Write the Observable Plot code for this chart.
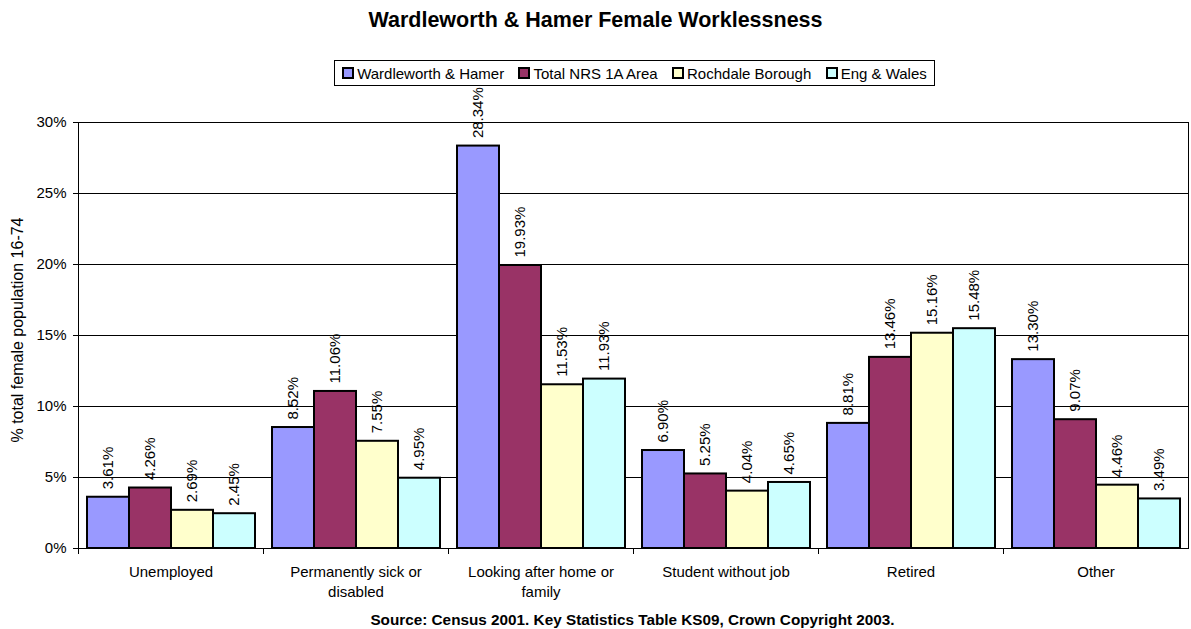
<!DOCTYPE html>
<html><head><meta charset="utf-8">
<script src="https://cdn.jsdelivr.net/npm/d3@7"></script>
<script src="https://cdn.jsdelivr.net/npm/@observablehq/plot@0.6"></script>
<style>
body{margin:0;background:#fff;font-family:"Liberation Sans",Arial,sans-serif;color:#000;}
#wrap{position:relative;width:1191px;height:629px;overflow:hidden;}
#title{position:absolute;left:0;width:1191px;top:8px;text-align:center;font-weight:bold;font-size:21.5px;}
#legend{position:absolute;top:60px;left:334px;width:599px;height:24px;border:1px solid #000;display:flex;align-items:center;justify-content:space-around;font-size:15px;white-space:nowrap;box-sizing:content-box;background:#fff;}
.item{display:flex;align-items:center;}
.sw{width:8px;height:8px;border:2px solid #000;margin-right:3px;}
#ylabel{position:absolute;left:18px;top:330px;transform:translate(-50%,-50%) rotate(-90deg);font-size:16px;white-space:nowrap;}
#chart{position:absolute;top:90px;left:0;}
#caption{position:absolute;top:611px;left:37px;width:1191px;text-align:center;font-weight:bold;font-size:15.3px;}
</style>
</head><body>
<div id="wrap">
  <div id="title">Wardleworth &amp; Hamer Female Worklessness</div>
  <div id="legend"></div>
  <div id="ylabel">% total female population 16-74</div>
  <div id="chart"></div>
  <div id="caption">Source: Census 2001. Key Statistics Table KS09, Crown Copyright 2003.</div>
</div>
<script>
const categories = ["Unemployed", "Permanently sick or disabled", "Looking after home or family", "Student without job", "Retired", "Other"];
const categoryLabels = ["Unemployed", "Permanently sick or\ndisabled", "Looking after home or\nfamily", "Student without job", "Retired", "Other"];
const series = ["Wardleworth & Hamer", "Total NRS 1A Area", "Rochdale Borough", "Eng & Wales"];
const colors = ["#9999FF", "#993366", "#FFFFCC", "#CCFFFF"];
const wardleworth = [3.61, 8.52, 28.34, 6.90, 8.81, 13.30];
const totalNRS = [4.26, 11.06, 19.93, 5.25, 13.46, 9.07];
const rochdale = [2.69, 7.55, 11.53, 4.04, 15.16, 4.46];
const engWales = [2.45, 4.95, 11.93, 4.65, 15.48, 3.49];
const yTicks = [0, 5, 10, 15, 20, 25, 30];

const seriesValues = [wardleworth, totalNRS, rochdale, engWales];
const rows = categories.flatMap((c, i) => series.map((s, k) => ({category: c, series: s, value: seriesValues[k][i]})));
const labelRows = categories.map((c, i) => ({category: c, label: categoryLabels[i]}));

// legend
const legend = document.getElementById("legend");
series.forEach((s, k) => {
  const it = document.createElement("div");
  it.className = "item";
  const sw = document.createElement("div");
  sw.className = "sw";
  sw.style.background = colors[k];
  const t = document.createElement("span");
  t.textContent = s;
  it.appendChild(sw); it.appendChild(t);
  legend.appendChild(it);
});

const chart = Plot.plot({
  width: 1191,
  height: 520,
  marginTop: 32,
  marginLeft: 78,
  marginRight: 3,
  marginBottom: 62,
  style: {fontFamily: "'Liberation Sans', Arial, sans-serif", fontSize: "15px", color: "#000", background: "transparent", overflow: "visible"},
  fx: {domain: categories, padding: 0, axis: null},
  x: {domain: series, paddingInner: 0, paddingOuter: 0.2, axis: null},
  y: {domain: [0, 30], ticks: yTicks, tickFormat: d => d + "%", tickSize: 5, tickPadding: 7, label: null},
  color: {domain: series, range: colors},
  marks: [
    Plot.ruleY(yTicks, {stroke: "#000", strokeWidth: 1}),
    Plot.frame({anchor: "left", insetTop: 426, insetBottom: -5, stroke: "#000"}),
    Plot.frame({anchor: "left", fx: () => categories[0], stroke: "#000"}),
    Plot.frame({anchor: "right", fx: () => categories[categories.length - 1], stroke: "#000"}),
    Plot.barY(rows, {fx: "category", x: "series", y: "value", fill: "series", stroke: "#000", strokeWidth: 2}),
    Plot.text(rows, {fx: "category", x: "series", y: "value", text: d => d.value.toFixed(2) + "%", rotate: -90, textAnchor: "start", dy: -8, fontSize: 15, fill: "#000"}),
    Plot.text(labelRows, {fx: "category", text: "label", frameAnchor: "bottom", dy: 14, lineAnchor: "top", lineHeight: 1.33, fontSize: 15, fill: "#000"})
  ]
});
document.getElementById("chart").appendChild(chart);
</script>
</body></html>
